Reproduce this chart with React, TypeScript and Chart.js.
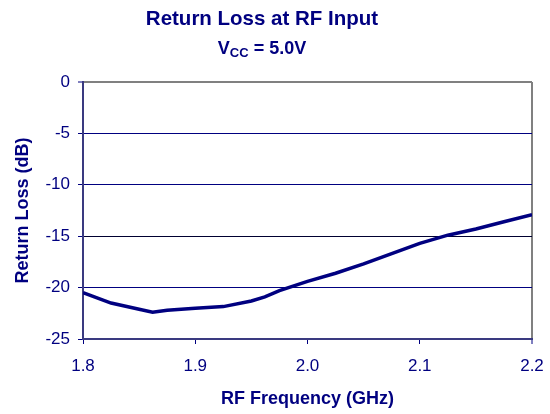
import React, { useEffect, useRef } from "react";
import { Chart, registerables } from "chart.js";

Chart.register(...registerables);

const frequencyGHz = [1.8, 1.825, 1.85, 1.862, 1.875, 1.9, 1.925, 1.95, 1.962, 1.975, 2.0, 2.025, 2.05, 2.075, 2.1, 2.125, 2.15, 2.175, 2.2];
const returnLossDb = [-20.5, -21.5, -22.1, -22.4, -22.2, -22.0, -21.85, -21.3, -20.9, -20.3, -19.4, -18.6, -17.7, -16.7, -15.7, -14.9, -14.3, -13.6, -12.9];

const title = "Return Loss at RF Input";
const xTitle = "RF Frequency (GHz)";
const yTitle = "Return Loss (dB)";

const NAVY = "#000080";
const FONT = "'Liberation Sans', Arial, Helvetica, sans-serif";

export default function App() {
  const ref = useRef<HTMLCanvasElement | null>(null);

  useEffect(() => {
    if (!ref.current) return;
    Chart.defaults.font.family = FONT;
    const chart = new Chart(ref.current, {
      type: "line",
      data: {
        datasets: [
          {
            data: frequencyGHz.map((f, i) => ({ x: f, y: returnLossDb[i] })),
            borderColor: NAVY,
            borderWidth: 3.5,
            pointRadius: 0,
            tension: 0,
            fill: false,
          },
        ],
      },
      options: {
        responsive: false,
        animation: false,
        devicePixelRatio: 1,
        layout: { padding: { left: 0, top: 82, right: 18, bottom: 0 } },
        plugins: { legend: { display: false }, tooltip: { enabled: false } },
        scales: {
          x: {
            type: "linear",
            min: 1.8,
            max: 2.2,
            afterFit: (s: any) => {
              s.height = 75;
              s.paddingLeft = 0;
              s.paddingRight = 0;
            },
            ticks: {
              stepSize: 0.1,
              color: NAVY,
              font: { size: 17 },
              padding: 12,
              callback: (v: any) => Number(v).toFixed(1),
            },
            grid: {
              color: (c: any) => (c.tick && Math.abs(c.tick.value - 2.2) < 1e-6 ? "#808080" : "rgba(0,0,0,0)"),
              lineWidth: (c: any) => (c.tick && Math.abs(c.tick.value - 2.2) < 1e-6 ? 2 : 1),
              tickColor: NAVY,
              tickLength: 5,
              tickWidth: 1,
            },
            border: { color: "#3a3a80", width: 2 },
            title: {
              display: true,
              text: xTitle,
              color: NAVY,
              font: { size: 18, weight: "bold" },
              padding: { top: 0, bottom: 4 },
            },
          },
          y: {
            min: -25,
            max: 0,
            afterFit: (s: any) => {
              s.width = 83;
              s.paddingTop = 0;
              s.paddingBottom = 0;
            },
            ticks: {
              stepSize: 5,
              color: NAVY,
              font: { size: 17 },
              padding: 8,
            },
            grid: {
              color: (c: any) => {
                const v = c.tick ? c.tick.value : null;
                if (v === 0) return "#808080";
                if (v === -15) return "#000030";
                return NAVY;
              },
              lineWidth: (c: any) => (c.tick && c.tick.value === 0 ? 2 : 1),
              tickColor: NAVY,
              tickLength: 5,
              tickWidth: 1,
            },
            border: { color: "#3a3a80", width: 2 },
            title: {
              display: true,
              text: yTitle,
              color: NAVY,
              font: { size: 18, weight: "bold" },
              padding: { top: 12, bottom: 0 },
            },
          },
        },
      },
    });
    return () => chart.destroy();
  }, []);

  return (
    <div style={{ position: "absolute", left: 0, top: 0, width: 550, height: 414, background: "#fff" }}>
      <canvas ref={ref} width={550} height={414} style={{ position: "absolute", left: 0, top: 0 }} />
      <div
        style={{
          position: "absolute",
          left: 0,
          width: 524,
          top: 7,
          textAlign: "center",
          fontFamily: FONT,
          fontWeight: "bold",
          fontSize: 20.5,
          lineHeight: "21px",
          color: NAVY,
          whiteSpace: "nowrap",
        }}
      >
        {title}
      </div>
      <div
        style={{
          position: "absolute",
          left: 0,
          width: 524,
          top: 39,
          textAlign: "center",
          fontFamily: FONT,
          fontWeight: "bold",
          fontSize: 18,
          lineHeight: "18px",
          color: NAVY,
          whiteSpace: "nowrap",
        }}
      >
        V<span style={{ fontSize: 13, verticalAlign: "-3px" }}>CC</span> = 5.0V
      </div>
    </div>
  );
}
